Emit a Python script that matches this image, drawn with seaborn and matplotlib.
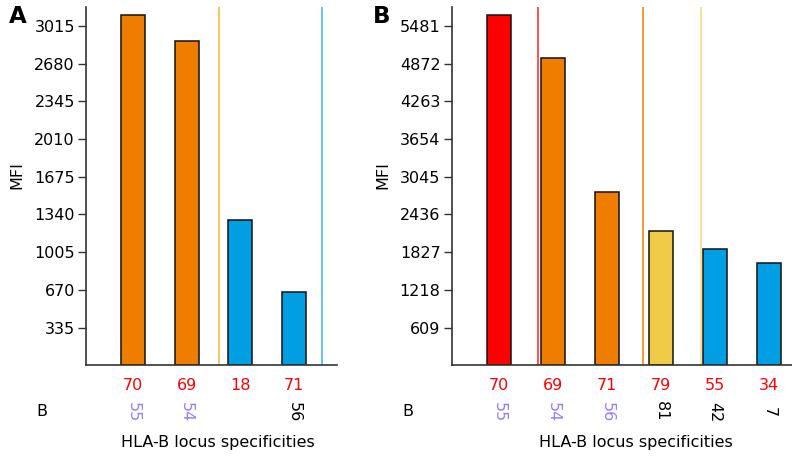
import matplotlib
matplotlib.use("Agg")
import matplotlib.pyplot as plt
import seaborn as sns
import pandas as pd

# ---- data ----
a_labels = ["70", "69", "18", "71"]
a_values = [3113, 2878, 1290, 655]
a_colors = ["#EE7D00", "#EE7D00", "#009FE3", "#009FE3"]
a_second = ["55", "54", "", "56"]
a_second_colors = ["#9B7BFF", "#9B7BFF", "black", "black"]
a_ticks = [335, 670, 1005, 1340, 1675, 2010, 2345, 2680, 3015]
a_seps = [1.6, 3.52]
a_sep_colors = ["#EDB934", "#3BB5F0"]

b_labels = ["70", "69", "71", "79", "55", "34"]
b_values = [5654, 4969, 2800, 2166, 1875, 1649]
b_colors = ["#FF0000", "#EE7D00", "#EE7D00", "#EFCB48", "#009FE3", "#009FE3"]
b_second = ["55", "54", "56", "81", "42", "7"]
b_second_colors = ["#9B7BFF", "#9B7BFF", "#9B7BFF", "black", "black", "black"]
b_ticks = [609, 1218, 1827, 2436, 3045, 3654, 4263, 4872, 5481]
b_seps = [0.73, 2.67, 3.73]
b_sep_colors = ["#FF2020", "#EE7D00", "#F5D77A"]

sns.set_style("white")
plt.rcParams["font.family"] = ["DejaVu Sans"]
plt.rcParams["text.color"] = "black"
plt.rcParams["xtick.color"] = "black"
plt.rcParams["ytick.color"] = "black"
plt.rcParams["axes.labelcolor"] = "black"
FS = 11.5

W, H = 792, 459
fig = plt.figure(figsize=(W / 100, H / 100), dpi=100)

def fx(px):
    return px / W

def fy(py):
    return 1 - py / H

panels = [
    dict(labels=a_labels, values=a_values, colors=a_colors, second=a_second,
         second_colors=a_second_colors, ticks=a_ticks, seps=a_seps, sep_colors=a_sep_colors,
         box=(86, 337), xlim=(-0.875, 3.8), letter="A", letter_x=18,
         b_x=41.7, xlabel_x=217.7, mfi_x=17),
    dict(labels=b_labels, values=b_values, colors=b_colors, second=b_second,
         second_colors=b_second_colors, ticks=b_ticks, seps=b_seps, sep_colors=b_sep_colors,
         box=(451.7, 792), xlim=(-0.87, 5.42), letter="B", letter_x=382,
         b_x=408, xlabel_x=636, mfi_x=383),
]

top_px, bot_px = 7, 365.4
for p in panels:
    l, r = p["box"]
    ax = fig.add_axes([fx(l), fy(bot_px), fx(r - l), (bot_px - top_px) / H])
    cats = [str(i) for i in range(len(p["labels"]))]
    df = pd.DataFrame({"cat": cats, "val": p["values"]})
    sns.barplot(data=df, x="cat", y="val", hue="cat", palette=p["colors"],
                order=cats, hue_order=cats, legend=False, width=0.45,
                edgecolor="#111111", linewidth=1.1, saturation=1, ax=ax)
    for s, c in zip(p["seps"], p["sep_colors"]):
        ax.axvline(s, color=c, lw=1.1, zorder=0)
    step = p["ticks"][0]
    ax.set_ylim(0, step * 9.5)
    ax.set_xlim(*p["xlim"])
    ax.set_yticks(p["ticks"])
    ax.set_yticklabels([str(t) for t in p["ticks"]], fontsize=FS, color="black")
    ax.tick_params(axis="y", direction="out", length=6, width=1, color="#333333", pad=2, left=True)
    ax.set_xticks(range(len(p["labels"])))
    ax.set_xticklabels(p["labels"], fontsize=FS, color="#FF0000")
    ax.tick_params(axis="x", length=0, pad=9)
    ax.set_xlabel("")
    ax.set_ylabel("")
    for side in ["top", "right"]:
        ax.spines[side].set_visible(False)
    for side in ["left", "bottom"]:
        ax.spines[side].set_color("#333333")
        ax.spines[side].set_linewidth(1.2)
    trans = ax.get_xaxis_transform()
    for i, (t, c) in enumerate(zip(p["second"], p["second_colors"])):
        if t:
            ax.text(i, -(411.7 - bot_px) / (bot_px - top_px), t, transform=trans,
                    rotation=-90, ha="center", va="center", fontsize=FS, color=c,
                    clip_on=False)
    fig.text(fx(p["b_x"]), fy(411.7), "B", ha="center", va="center", fontsize=FS, color="black")
    fig.text(fx(p["xlabel_x"]), fy(443), "HLA-B locus specificities", ha="center",
             va="center", fontsize=FS, color="black")
    fig.text(fx(p["mfi_x"]), fy(175), "MFI", ha="center", va="center", rotation=90,
             fontsize=FS, color="black")
    fig.text(fx(p["letter_x"]), fy(16.5), p["letter"], ha="center", va="center",
             fontsize=16.5, fontweight="heavy", color="black")

fig.savefig("out.png", dpi=100)
